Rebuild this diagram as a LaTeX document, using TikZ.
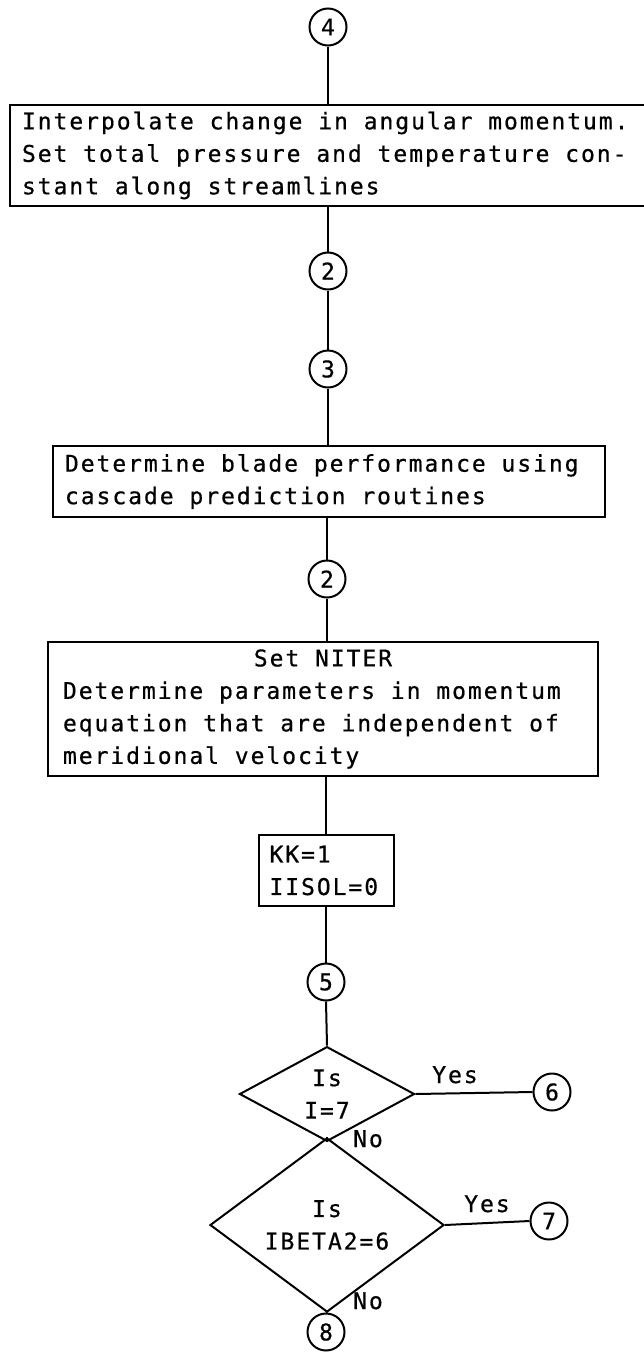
\documentclass[tikz,border=0pt]{standalone}
\usepackage{fontspec}
\usetikzlibrary{shapes.geometric}
\newfontfamily\tw{DejaVu Sans Mono}[LetterSpace=8.5,FakeBold=0.6]
\newcommand\twfont{\tw\fontsize{23}{32.5}\selectfont}
\newcommand\widespaces{\spaceskip 15.8pt\relax\xspaceskip 15.8pt\relax}
\begin{document}
\begin{tikzpicture}[x=1pt,y=-1pt, line width=2pt,
  every node/.style={font=\twfont, execute at begin node=\widespaces},
  box/.style={draw, rectangle, inner sep=0pt, align=left},
  conn/.style={draw, circle, minimum size=37pt, inner sep=0pt},
  decision/.style={draw, diamond, inner sep=0pt, align=center},
  lbl/.style={anchor=base, inner sep=0pt}]
\useasboundingbox (0,0) rectangle (644,1352);

% connectors (circles)
\node[conn] (c4) at (328,27) {4};
\node[conn] (c2) at (328,271) {2};
\node[conn] (c3) at (328,369) {3};
\node[conn] (c2b) at (327,579) {2};
\node[conn] (c5) at (326,982) {5};
\node[conn] (c6) at (552,1092) {6};
\node[conn] (c7) at (549,1221) {7};
\node[conn] (c8) at (326,1332) {8};

% boxes
\node[box, minimum width=650pt, minimum height=101pt, text width=626pt] (b1) at (335,155.5)
  {Interpolate change in angular momentum.\\Set total pressure and temperature con-\\stant along streamlines};
\node[box, minimum width=552pt, minimum height=71pt, text width=528pt] (b2) at (329,481.5)
  {Determine blade performance using\\cascade prediction routines};
\node[box, minimum width=550pt, minimum height=134pt, text width=520pt] (b3) at (323,709)
  {\noindent\hbox to\hsize{\hfil Set NITER\hfil}\\Determine parameters in momentum\\equation that are independent of\\meridional velocity};
\node[box, minimum width=135pt, minimum height=71pt, text width=113pt] (kk) at (326,870.5)
  {KK=1\\IISOL=0};

% decisions
\node[decision, minimum width=175pt, minimum height=89pt] (d1) at (327,1094) {Is\\I=7};
\node[decision, minimum width=234pt, minimum height=144pt] (d2) at (327,1225) {Is\\IBETA2=6};

% lines
\draw (c4.south) -- (c4.south |- b1.north);
\draw (c2.north |- b1.south) -- (c2.north);
\draw (c2) -- (c3);
\draw (c3.south) -- (c3.south |- b2.north);
\draw (c2b.north |- b2.south) -- (c2b.north);
\draw (c2b.south) -- (c2b.south |- b3.north);
\draw (kk.north |- b3.south) -- (kk.north);
\draw (kk.south) -- (c5.north);
\draw (c5.south) -- (d1.north);
\draw (d1.east) -- (c6.west);
\draw (d1.south) -- (d2.north);
\draw (d2.east) -- (c7.west);
\draw (d2.south) -- (c8.north);

% labels
\node[lbl] (y1) at (455,1083) {Yes};
\node[lbl] (y2) at (487,1212) {Yes};
\node[lbl] (n1) at (368,1147) {No};
\node[lbl] (n2) at (368,1309) {No};
\end{tikzpicture}
\end{document}
